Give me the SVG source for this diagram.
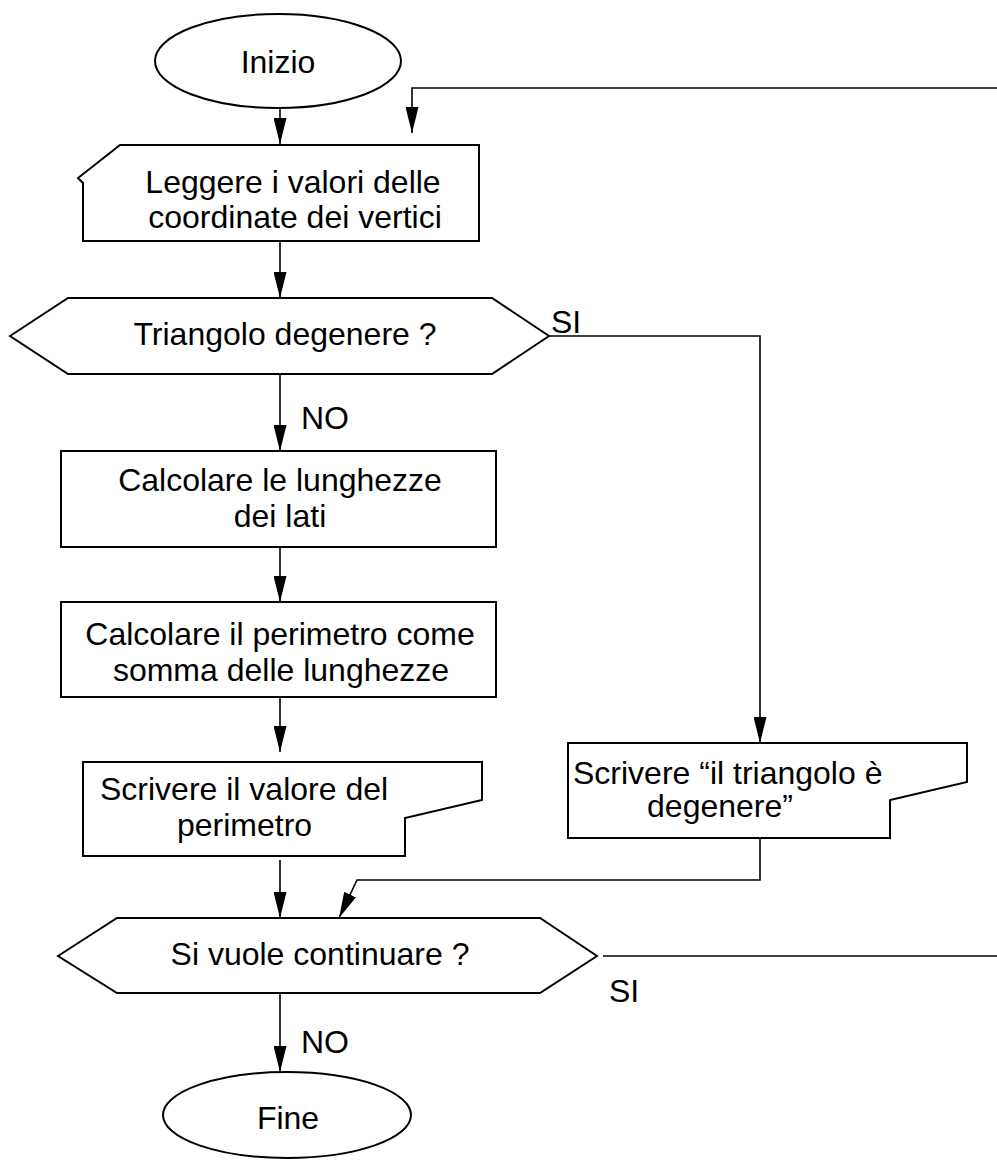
<svg xmlns="http://www.w3.org/2000/svg" width="997" height="1160" viewBox="0 0 997 1160">
<style>
.s{fill:#fff;stroke:#000;stroke-width:2}
.c{fill:none;stroke:#000;stroke-width:1.6}
text{font-family:"Liberation Sans",Arial,sans-serif;font-size:32px;fill:#000}
.m{text-anchor:middle}
</style>
<defs>
<marker id="ah" viewBox="0 0 26 13" refX="26" refY="6.5" markerWidth="26" markerHeight="13" markerUnits="userSpaceOnUse" orient="auto">
<path d="M0,0 L26,6.5 L0,13 z" fill="#000"/>
</marker>
</defs>
<rect width="997" height="1160" fill="#fff"/>
<g id="connectors">
<path class="c" d="M280,108 V144" marker-end="url(#ah)"/>
<path class="c" d="M997,88 H412 V133" marker-end="url(#ah)"/>
<path class="c" d="M280,241 V298" marker-end="url(#ah)"/>
<path class="c" d="M549,336 H760 V743" marker-end="url(#ah)"/>
<path class="c" d="M280,374 V451" marker-end="url(#ah)"/>
<path class="c" d="M280,547 V602" marker-end="url(#ah)"/>
<path class="c" d="M280,697 V752" marker-end="url(#ah)"/>
<path class="c" d="M760,838 V880 H357 L339,918" marker-end="url(#ah)"/>
<path class="c" d="M280,860 V918" marker-end="url(#ah)"/>
<path class="c" d="M603,956 H997"/>
<path class="c" d="M280,993 V1072" marker-end="url(#ah)"/>
<text x="551" y="333">SI</text>
<text x="301" y="429">NO</text>
<text x="609" y="1002">SI</text>
<text x="301" y="1053">NO</text>
</g>
<g id="inizio">
<ellipse class="s" cx="278" cy="61" rx="123" ry="47"/>
<text class="m" x="278" y="73">Inizio</text>
</g>
<g id="leggere">
<path class="s" d="M120,145 L78,178 L83,183 L83,241 L479,241 L479,145 Z"/>
<text class="m" x="293" y="193">Leggere i valori delle</text>
<text class="m" x="295" y="228">coordinate dei vertici</text>
</g>
<g id="triangolo">
<path class="s" d="M10,336 L68,298 L492,298 L549,336 L492,374 L68,374 Z"/>
<text class="m" x="285" y="345">Triangolo degenere ?</text>
</g>
<g id="calcolare-lati">
<rect class="s" x="61" y="451" width="435" height="96"/>
<text class="m" x="280" y="491">Calcolare le lunghezze</text>
<text class="m" x="280" y="527">dei lati</text>
</g>
<g id="calcolare-perimetro">
<rect class="s" x="61" y="602" width="435" height="95"/>
<text class="m" x="280" y="645">Calcolare il perimetro come</text>
<text class="m" x="281" y="681">somma delle lunghezze</text>
</g>
<g id="scrivere-perimetro">
<path class="s" d="M83,762 L482,762 L482,800 L405,818 L405,856 L83,856 Z"/>
<text x="100" y="800">Scrivere il valore del</text>
<text x="177" y="836">perimetro</text>
</g>
<g id="scrivere-degenere">
<path class="s" d="M568,743 L967,743 L967,782 L890,800 L890,838 L568,838 Z"/>
<text x="573" y="784">Scrivere “il triangolo è</text>
<text class="m" x="720" y="817">degenere”</text>
</g>
<g id="continuare">
<path class="s" d="M58,956 L117,918 L540,918 L597,956 L540,993 L117,993 Z"/>
<text class="m" x="320" y="965">Si vuole continuare ?</text>
</g>
<g id="fine">
<ellipse class="s" cx="287" cy="1115" rx="124" ry="43"/>
<text class="m" x="288" y="1129">Fine</text>
</g>
</svg>
